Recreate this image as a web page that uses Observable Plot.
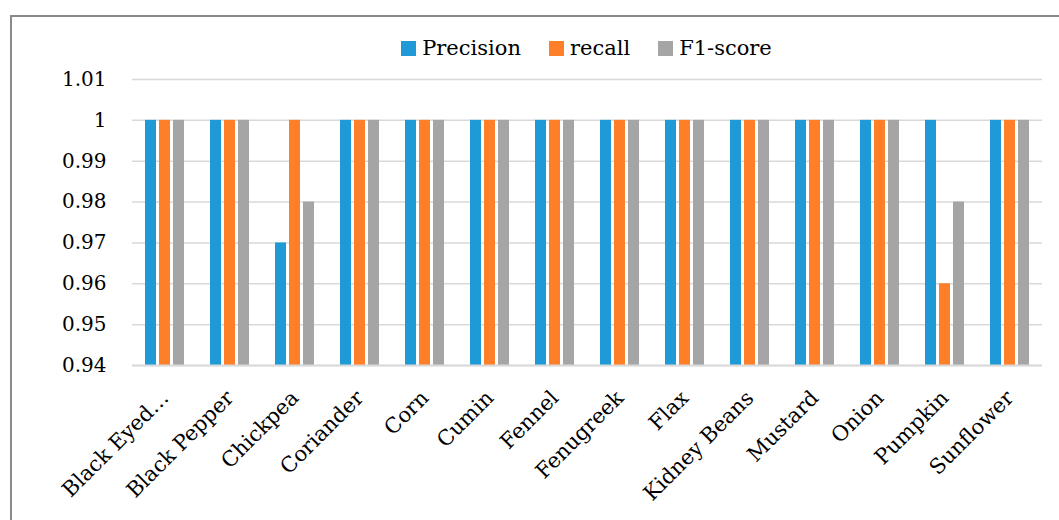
<!DOCTYPE html>
<html><head><meta charset="utf-8">
<script src="https://cdn.jsdelivr.net/npm/d3@7"></script>
<script src="https://cdn.jsdelivr.net/npm/@observablehq/plot@0.6"></script>
<style>
body{margin:0;background:#fff;width:1059px;height:520px;overflow:hidden;position:relative;font-family:"DejaVu Serif",serif;}
#frame{position:absolute;left:10px;top:15px;width:1100px;height:600px;border:2px solid #8a8a8a;box-sizing:border-box;pointer-events:none;z-index:5;}
#legend{position:absolute;left:130px;width:913px;top:36px;height:24px;display:flex;justify-content:center;align-items:center;font-size:21px;color:#000;z-index:3;}
.item{display:flex;align-items:center;margin:0 14px;white-space:nowrap;}
.sw{width:15px;height:15px;margin-right:6px;}
#chart{position:absolute;left:0;top:60px;}
</style></head><body>
<div id="frame"></div>
<div id="legend"></div>
<div id="chart"></div>
<script>
const categories = ["Black Eyed…","Black Pepper","Chickpea","Coriander","Corn","Cumin","Fennel","Fenugreek","Flax","Kidney Beans","Mustard","Onion","Pumpkin","Sunflower"];
const precision = [1,1,0.97,1,1,1,1,1,1,1,1,1,1,1];
const recall    = [1,1,1,1,1,1,1,1,1,1,1,1,0.96,1];
const f1        = [1,1,0.98,1,1,1,1,1,1,1,1,1,0.98,1];
const seriesNames = ["Precision","recall","F1-score"];
const seriesColors = ["#1f9ad6","#fe7f27","#a5a5a5"];
const yTicks = [0.94,0.95,0.96,0.97,0.98,0.99,1,1.01];
const yMin = 0.94, yMax = 1.01;

const seriesValues = [precision, recall, f1];
const data = categories.flatMap((c, i) => seriesNames.map((s, k) => ({category: c, series: s, value: seriesValues[k][i]})));

const legend = document.getElementById("legend");
seriesNames.forEach((s, k) => {
  const it = document.createElement("div"); it.className = "item";
  const sw = document.createElement("div"); sw.className = "sw"; sw.style.background = seriesColors[k];
  const t = document.createElement("span"); t.textContent = s;
  it.appendChild(sw); it.appendChild(t); legend.appendChild(it);
});

const chart = Plot.plot({
  width: 1059, height: 460,
  marginTop: 19, marginBottom: 155, marginLeft: 130, marginRight: 16,
  style: {fontFamily: "DejaVu Serif", fontSize: "20px", color: "#000", background: "transparent", overflow: "visible"},
  fx: {domain: categories, padding: 0, label: null},
  x: {domain: seriesNames, paddingInner: 0.22, paddingOuter: 0.9, axis: null},
  y: {domain: [yMin, yMax], label: null},
  color: {domain: seriesNames, range: seriesColors},
  marks: [
    Plot.ruleY(yTicks, {stroke: "#d9d9d9", strokeWidth: 1.5}),
    Plot.barY(data, {fx: "category", x: "series", y1: () => yMin, y2: "value", fill: "series"}),
    Plot.ruleY([yMin], {stroke: "#d9d9d9", strokeWidth: 2}),
    Plot.axisY(yTicks, {tickSize: 0, tickPadding: 26, tickFormat: d => String(d), fontSize: 20}),
    Plot.axisFx({anchor: "bottom", tickRotate: -45, tickSize: 0, tickPadding: 29, fontSize: 21, label: null})
  ]
});
document.getElementById("chart").appendChild(chart);
</script>
</body></html>
